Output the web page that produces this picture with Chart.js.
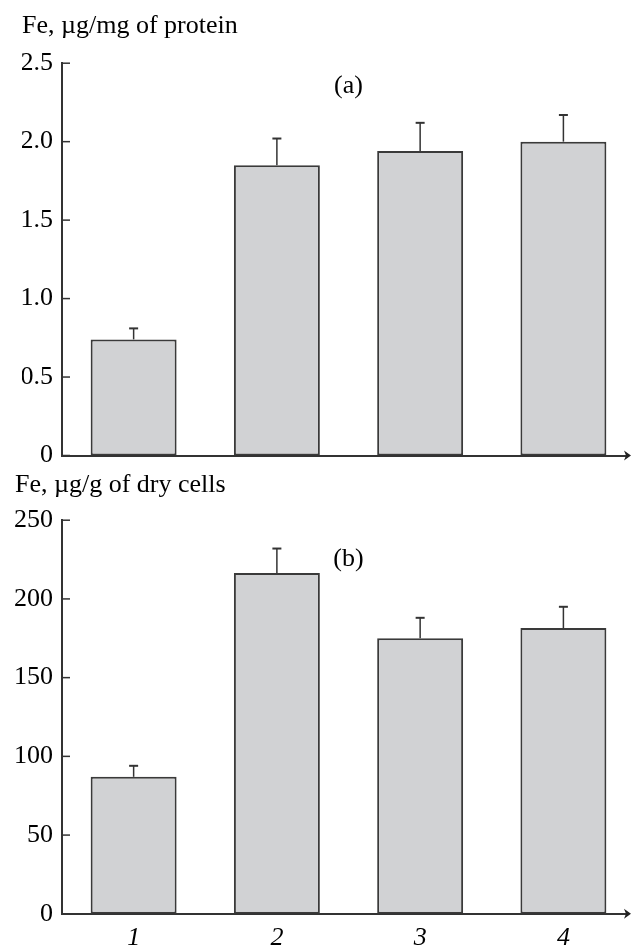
<!DOCTYPE html>
<html>
<head>
<meta charset="utf-8">
<script src="https://cdn.jsdelivr.net/npm/chart.js@4"></script>
<style>
  body { margin: 0; background: #fff; overflow: hidden; }
  #top { position: absolute; left: 0; top: 0; width: 631px; height: 470px; }
  #bot { position: absolute; left: 0; top: 470px; width: 631px; height: 498px; }
</style>
</head>
<body>
<div id="top"><canvas id="chartA"></canvas></div>
<div id="bot"><canvas id="chartB"></canvas></div>
<script>
// strains / samples 1..4
const samples = [1, 2, 3, 4];
const sampleLabels = ["1", "2", "3", "4"];

// (a) Fe, µg/mg of protein
const proteinFe = [0.74, 1.85, 1.94, 2.0];
const proteinErr = [0.07, 0.17, 0.18, 0.17];
const proteinTicks = [0, 0.5, 1.0, 1.5, 2.0, 2.5];
const proteinTickLabels = ["0", "0.5", "1.0", "1.5", "2.0", "2.5"];

// (b) Fe, µg/g of dry cells
const dryFe = [87, 216.5, 175, 181.5];
const dryErr = [7, 15.5, 13, 13.5];
const dryTicks = [0, 50, 100, 150, 200, 250];
const dryTickLabels = ["0", "50", "100", "150", "200", "250"];

Chart.defaults.font.family = "'Liberation Serif', 'Times New Roman', serif";
Chart.defaults.font.size = 26;
Chart.defaults.color = "#000";

// error bars, inward ticks, axis arrow and panel letter
const extras = {
  id: "extras",
  afterDatasetsDraw(chart, args, opts) {
    const ctx = chart.ctx;
    const xs = chart.scales.x, ys = chart.scales.y;
    const meta = chart.getDatasetMeta(0);
    ctx.save();
    ctx.strokeStyle = "#333";
    meta.data.forEach((bar, i) => {
      const top = ys.getPixelForValue(opts.values[i] + opts.errors[i]);
      ctx.lineWidth = 1.5;
      ctx.beginPath();
      ctx.moveTo(bar.x, bar.y);
      ctx.lineTo(bar.x, top);
      ctx.stroke();
      ctx.lineWidth = 2;
      ctx.beginPath();
      ctx.moveTo(bar.x - 4.5, top);
      ctx.lineTo(bar.x + 4.5, top);
      ctx.stroke();
    });

    // ticks pointing into the plot
    ctx.lineWidth = 1.5;
    ys.ticks.forEach(t => {
      const py = ys.getPixelForValue(t.value);
      ctx.beginPath();
      ctx.moveTo(ys.right, py);
      ctx.lineTo(ys.right + 8, py);
      ctx.stroke();
    });

    // arrow at end of x axis
    const ay = chart.chartArea.bottom;
    const ax = chart.chartArea.right;
    ctx.fillStyle = "#222";
    ctx.beginPath();
    ctx.moveTo(ax + 6, ay);
    ctx.lineTo(ax - 1, ay - 5);
    ctx.lineTo(ax + 1, ay);
    ctx.lineTo(ax - 1, ay + 5);
    ctx.closePath();
    ctx.fill();

    ctx.fillStyle = "#000";
    ctx.font = "26px 'Liberation Serif'";
    ctx.textAlign = "center";
    ctx.textBaseline = "middle";
    ctx.fillText(opts.letter, xs.getPixelForValue(opts.letterAt[0]), ys.getPixelForValue(opts.letterAt[1]));
    ctx.restore();
  }
};

function makeChart(id, values, errors, ticks, tickLabels, max, title, letter, letterAt, showX, layout, titlePad, yWidth) {
  return new Chart(document.getElementById(id), {
    type: "bar",
    data: {
      datasets: [{
        data: samples.map((s, i) => ({ x: s, y: values[i] })),
        backgroundColor: "#d1d2d4",
        borderColor: "#3a3a3a",
        borderWidth: 2,
        borderSkipped: false,
        categoryPercentage: 1,
        barPercentage: 0.6
      }]
    },
    options: {
      responsive: true,
      maintainAspectRatio: false,
      animation: false,
      layout: { padding: layout },
      plugins: {
        legend: { display: false },
        tooltip: { enabled: false },
        title: {
          display: true,
          text: title,
          align: "start",
          font: { size: 26, weight: "normal" },
          padding: titlePad
        },
        extras: { values: values, errors: errors, letter: letter, letterAt: letterAt }
      },
      scales: {
        x: {
          type: "linear",
          min: 0.5,
          max: 4.43,
          offset: false,
          grid: { display: false, drawTicks: false, offset: false },
          border: { display: true, color: "#333", width: 2 },
          afterBuildTicks: s => { s.ticks = samples.map(v => ({ value: v })); },
          ticks: {
            display: showX,
            padding: 9,
            font: { style: "italic" },
            callback: (v, i) => sampleLabels[i]
          }
        },
        y: {
          min: 0,
          max: max,
          grid: { display: false, drawTicks: false },
          border: { display: true, color: "#333", width: 2 },
          afterFit: s => {
            s.width = yWidth;
            s.paddingTop = 0;
            s.paddingBottom = 0;
          },
          afterBuildTicks: s => { s.ticks = ticks.map(v => ({ value: v })); },
          ticks: {
            padding: 9,
            callback: (v, i) => tickLabels[i]
          }
        }
      }
    },
    plugins: [extras]
  });
}

makeChart("chartA", proteinFe, proteinErr, proteinTicks, proteinTickLabels, 2.5,
  "Fe, \u00b5g/mg of protein", "(a)", [2.5, 2.355], false,
  { left: 22, right: 6, top: 0, bottom: 14.5 }, { top: 11, bottom: 21 }, 40);

makeChart("chartB", dryFe, dryErr, dryTicks, dryTickLabels, 250,
  "Fe, \u00b5g/g of dry cells", "(b)", [2.5, 225], true,
  { left: 15, right: 6, top: 0, bottom: 5 }, { top: 0, bottom: 19 }, 47);
</script>
</body>
</html>
